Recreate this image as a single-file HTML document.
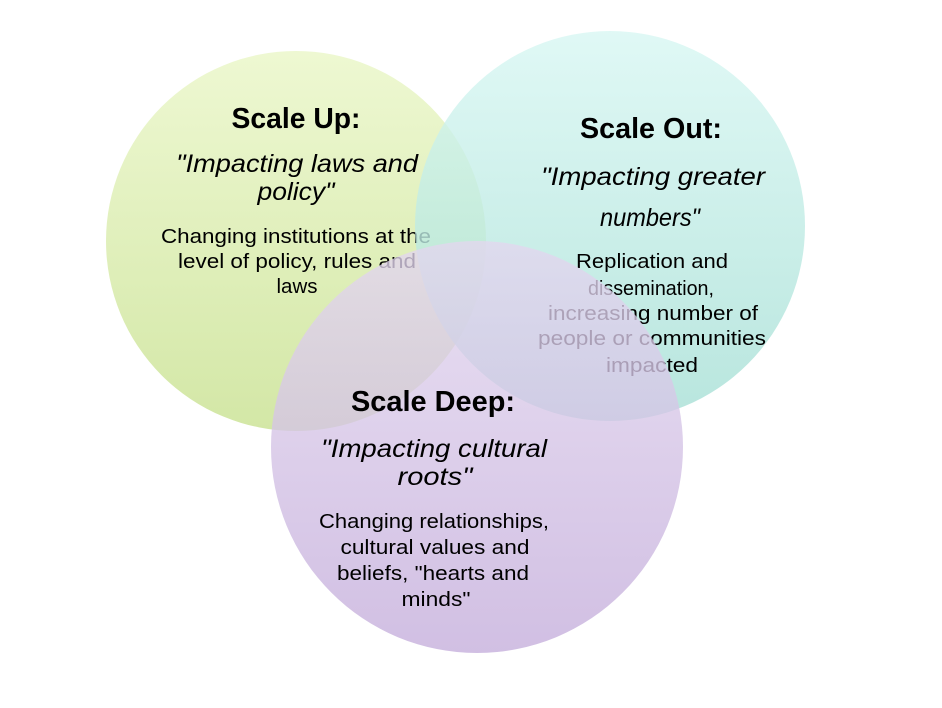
<!DOCTYPE html>
<html><head><meta charset="utf-8"><style>
html,body{margin:0;padding:0;background:#fff;width:942px;height:708px;overflow:hidden}
svg{display:block}
text{font-family:"Liberation Sans",sans-serif;fill:#000;text-anchor:middle}
.t{font-weight:bold;font-size:29px}
.i{font-style:italic;font-size:25px}
.b{font-size:20px}
</style></head><body>
<svg width="942" height="708" viewBox="0 0 942 708">
<defs>
<linearGradient id="g" x1="0" y1="0" x2="0" y2="1"><stop offset="0" stop-color="#eef8d2"/><stop offset="1" stop-color="#d3e7a6"/></linearGradient>
<linearGradient id="t" x1="0" y1="0" x2="0" y2="1"><stop offset="0" stop-color="#d8f7f3"/><stop offset="1" stop-color="#a6dfd5"/></linearGradient>
<linearGradient id="p" x1="0" y1="0" x2="0" y2="1"><stop offset="0" stop-color="#e3d7ef"/><stop offset="1" stop-color="#c4addb"/></linearGradient>
</defs>
<g lengthAdjust="spacingAndGlyphs">
<circle cx="296" cy="241" r="190" fill="url(#g)"/>
<text class="t" x="296" y="128" textLength="129" lengthAdjust="spacingAndGlyphs">Scale Up:</text>
<text class="i" x="297" y="172" textLength="242" lengthAdjust="spacingAndGlyphs">"Impacting laws and</text>
<text class="i" x="296" y="200" textLength="77" lengthAdjust="spacingAndGlyphs">policy"</text>
<text class="b" x="296" y="243" textLength="270" lengthAdjust="spacingAndGlyphs">Changing institutions at the</text>
<text class="b" x="297" y="268" textLength="238" lengthAdjust="spacingAndGlyphs">level of policy, rules and</text>
<text class="b" x="297" y="293" textLength="41" lengthAdjust="spacingAndGlyphs">laws</text>
<circle cx="610" cy="226" r="195" fill="url(#t)" opacity="0.8"/>
<text class="t" x="651" y="138" textLength="142" lengthAdjust="spacingAndGlyphs">Scale Out:</text>
<text class="i" x="653" y="185" textLength="224" lengthAdjust="spacingAndGlyphs">"Impacting greater</text>
<text class="i" x="650" y="226" textLength="100" lengthAdjust="spacingAndGlyphs">numbers"</text>
<text class="b" x="652" y="268" textLength="152" lengthAdjust="spacingAndGlyphs">Replication and</text>
<text class="b" x="651" y="295" textLength="126" lengthAdjust="spacingAndGlyphs">dissemination,</text>
<text class="b" x="653" y="320" textLength="210" lengthAdjust="spacingAndGlyphs">increasing number of</text>
<text class="b" x="652" y="345" textLength="228" lengthAdjust="spacingAndGlyphs">people or communities</text>
<text class="b" x="652" y="372" textLength="92" lengthAdjust="spacingAndGlyphs">impacted</text>
<circle cx="477" cy="447" r="206" fill="url(#p)" opacity="0.78"/>
<text class="t" x="433" y="411" textLength="164" lengthAdjust="spacingAndGlyphs">Scale Deep:</text>
<text class="i" x="434" y="457" textLength="226" lengthAdjust="spacingAndGlyphs">"Impacting cultural</text>
<text class="i" x="435" y="485" textLength="75" lengthAdjust="spacingAndGlyphs">roots"</text>
<text class="b" x="434" y="528" textLength="230" lengthAdjust="spacingAndGlyphs">Changing relationships,</text>
<text class="b" x="435" y="554" textLength="189" lengthAdjust="spacingAndGlyphs">cultural values and</text>
<text class="b" x="433" y="580" textLength="192" lengthAdjust="spacingAndGlyphs">beliefs, "hearts and</text>
<text class="b" x="436" y="606" textLength="69" lengthAdjust="spacingAndGlyphs">minds"</text>
</g>
</svg>
</body></html>
